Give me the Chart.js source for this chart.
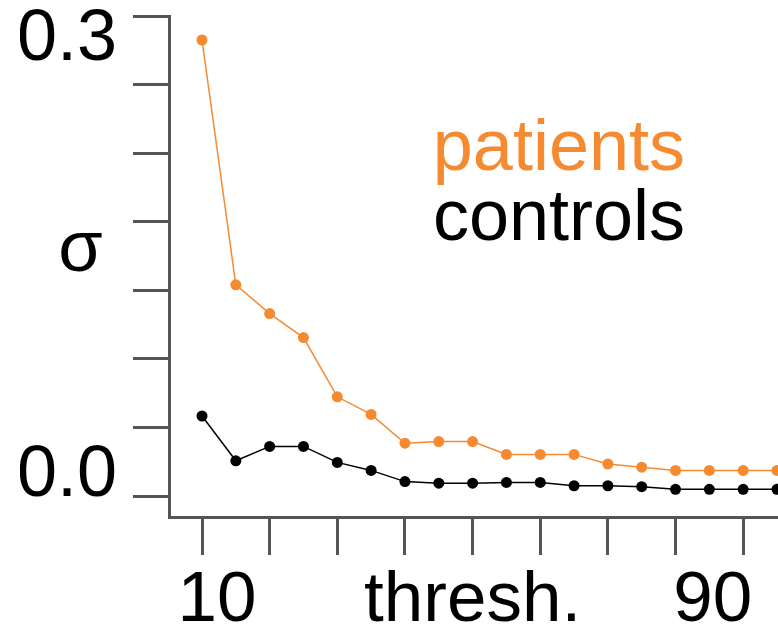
<!DOCTYPE html>
<html>
<head>
<meta charset="utf-8">
<script src="https://cdn.jsdelivr.net/npm/chart.js@4/dist/chart.umd.min.js"></script>
<style>
  html, body { margin: 0; padding: 0; background: #fff; }
  #wrap { width: 778px; height: 630px; position: relative; }
</style>
</head>
<body>
<div id="wrap"><canvas id="sigma"></canvas></div>
<script>
// thresholds (x) and sigma values
const thresholds = [10, 15, 20, 25, 30, 35, 40, 45, 50, 55, 60, 65, 70, 75, 80, 85, 90, 95];
const patients = [0.285, 0.132, 0.114, 0.099, 0.062, 0.051, 0.033, 0.034, 0.034, 0.026, 0.026, 0.026, 0.020, 0.018, 0.016, 0.016, 0.016, 0.016];
const controls = [0.050, 0.022, 0.031, 0.031, 0.021, 0.016, 0.009, 0.008, 0.008, 0.0085, 0.0085, 0.0064, 0.0064, 0.0058, 0.0042, 0.0042, 0.0042, 0.0042];

const xTickMarks = [10, 20, 30, 40, 50, 60, 70, 80, 90];
const xLabels = ['10', 'thresh.', '90'];
const yLabels = ['0.0', '0.3'];
const yTitle = 'σ';
const yTop = 0.3;
const yTickCount = 7;

const FONT = "'Liberation Sans', Arial, Helvetica, sans-serif";
const axisGrey = '#555555';
const orange = '#f58a30';

// legend drawn as plain coloured words, right aligned inside the plot
const wordLegend = {
    id: 'wordLegend',
    afterDraw(chart) {
        const ctx = chart.ctx;
        const area = chart.chartArea;
        ctx.save();
        ctx.font = '72px ' + FONT;
        ctx.textAlign = 'right';
        ctx.textBaseline = 'alphabetic';
        chart.data.datasets.forEach((ds, i) => {
            ctx.fillStyle = ds.borderColor;
            ctx.fillText(ds.label, area.right - 93, area.top + 154 + i * 70);
        });
        ctx.restore();
    }
};

const noPad = (scale) => {
    scale.paddingTop = 0;
    scale.paddingBottom = 0;
    scale.paddingLeft = 0;
    scale.paddingRight = 0;
};

new Chart(document.getElementById('sigma'), {
    type: 'line',
    data: {
        labels: thresholds,
        datasets: [{
            label: 'patients',
            data: patients,
            borderColor: orange,
            backgroundColor: orange,
            borderWidth: 1.5,
            pointRadius: 5.5,
            pointBorderWidth: 0,
            pointBackgroundColor: orange,
            tension: 0
        }, {
            label: 'controls',
            data: controls,
            borderColor: '#000000',
            backgroundColor: '#000000',
            borderWidth: 1.5,
            pointRadius: 5.5,
            pointBorderWidth: 0,
            pointBackgroundColor: '#000000',
            tension: 0
        }]
    },
    options: {
        animation: false,
        responsive: true,
        maintainAspectRatio: false,
        layout: { autoPadding: false, padding: { top: 16, left: 20, right: 0, bottom: 0 } },
        plugins: {
            legend: { display: false },
            tooltip: { enabled: false }
        },
        scales: {
            x: {
                type: 'linear',
                position: 'bottom',
                min: 5.12,
                max: 95.15,
                weight: 0,
                afterBuildTicks: (scale) => { scale.ticks = xTickMarks.map(v => ({ value: v })); },
                afterFit: noPad,
                ticks: { display: false },
                grid: { drawOnChartArea: false, drawTicks: true, tickLength: 38, color: axisGrey, lineWidth: 3 },
                border: { display: true, color: axisGrey, width: 3 }
            },
            xl: {
                type: 'linear',
                position: 'bottom',
                min: 5.12,
                max: 95.15,
                weight: 1,
                afterBuildTicks: (scale) => { scale.ticks = [12.2, 50.0, 85.5].map(v => ({ value: v })); },
                afterFit: (scale) => { noPad(scale); scale.height = 75; },
                ticks: {
                    autoSkip: false,
                    maxRotation: 0,
                    padding: 17,
                    color: '#000',
                    font: { family: FONT, size: 71, lineHeight: 0.83 },
                    callback: (v, i) => xLabels[i]
                },
                grid: { display: false, drawTicks: false },
                border: { display: false }
            },
            y: {
                type: 'linear',
                position: 'left',
                min: -0.013125,
                max: yTop,
                weight: 0,
                afterBuildTicks: (scale) => {
                    const t = [];
                    for (let i = 0; i <= yTickCount; i++) t.push({ value: yTop * i / yTickCount });
                    scale.ticks = t;
                },
                afterFit: noPad,
                ticks: { display: false },
                grid: { drawOnChartArea: false, drawTicks: true, tickLength: 36, color: axisGrey, lineWidth: 3 },
                border: { display: true, color: axisGrey, width: 3 }
            },
            yl: {
                type: 'linear',
                position: 'left',
                min: -0.013125,
                max: yTop,
                weight: 1,
                afterBuildTicks: (scale) => { scale.ticks = [0.0125, 0.153, 0.285].map(v => ({ value: v })); },
                afterFit: (scale) => { noPad(scale); scale.width = 113; },
                ticks: {
                    autoSkip: false,
                    padding: 16,
                    color: '#000',
                    font: { family: FONT, size: 72, lineHeight: 1 },
                    callback: (v, i) => [yLabels[0], yTitle + '\u2009', yLabels[1]][i]
                },
                grid: { display: false, drawTicks: false },
                border: { display: false }
            }
        }
    },
    plugins: [wordLegend]
});
</script>
</body>
</html>
